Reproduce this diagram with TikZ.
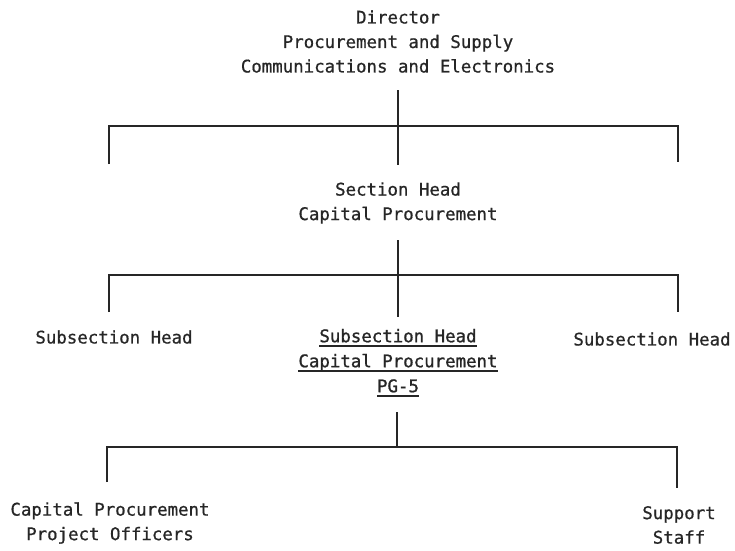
\documentclass[tikz,border=0pt]{standalone}
\usepackage{fontspec}
\setmonofont[FakeBold=0.7]{DejaVu Sans Mono}
\newfontfamily\heavymono[FakeBold=1.1]{DejaVu Sans Mono}
\definecolor{ink}{HTML}{262626}
\newcommand{\ulx}[1]{\setbox0\hbox{#1}\rlap{\rule[-4.8pt]{\wd0}{2pt}}\box0}
\begin{document}
\begin{tikzpicture}[x=1pt,y=-1pt,
  lbl/.style={text=ink,font=\ttfamily\fontsize{17.4}{24.5}\selectfont,align=center,inner sep=0pt},
  heavy/.style={font=\heavymono\fontsize{17.4}{25}\selectfont},
  ln/.style={draw=ink,line width=1.6pt}]
\fill[white] (0,0) rectangle (735,550);
\useasboundingbox (0,0) rectangle (735,550);
% nodes
\node[lbl] (dir) at (398,41.5) {Director\\Procurement and Supply\\Communications and Electronics};
\node[lbl] (sec) at (398,203) {Section Head\\Capital Procurement};
\node[lbl] (subL) at (114,337) {Subsection Head};
\node[lbl,heavy] (subC) at (398,363) {\ulx{Subsection Head}\\\ulx{Capital Procurement}\\\ulx{PG-5}};
\node[lbl] (subR) at (652,339) {Subsection Head};
\node[lbl] (cpo) at (110,523) {Capital Procurement\\Project Officers};
\node[lbl] (sup) at (679,525) {Support\\Staff};
% level 1 bus
\coordinate (a1) at (398,90);
\coordinate (a2) at (398,165);
\coordinate (b1) at (109,126);
\coordinate (b2) at (678,126);
\coordinate (b1e) at (109,164);
\coordinate (b2e) at (678,162);
\draw[ln] (a1) -- (a2);
\draw[ln] (b1e) -- (b1) -- (b2) -- (b2e);
% level 2 bus
\coordinate (c1) at (398,240);
\coordinate (c2) at (398,317);
\coordinate (d1) at (109,275);
\coordinate (d2) at (678,275);
\coordinate (d1e) at (109,312);
\coordinate (d2e) at (678,312);
\draw[ln] (c1) -- (c2);
\draw[ln] (d1e) -- (d1) -- (d2) -- (d2e);
% level 3 bus
\coordinate (e1) at (397,412);
\coordinate (e2) at (397,447);
\coordinate (f1) at (107,447);
\coordinate (f2) at (677,447);
\coordinate (f1e) at (107,482);
\coordinate (f2e) at (677,488);
\draw[ln] (e1) -- (e2);
\draw[ln] (f1e) -- (f1) -- (f2) -- (f2e);
\end{tikzpicture}
\end{document}
